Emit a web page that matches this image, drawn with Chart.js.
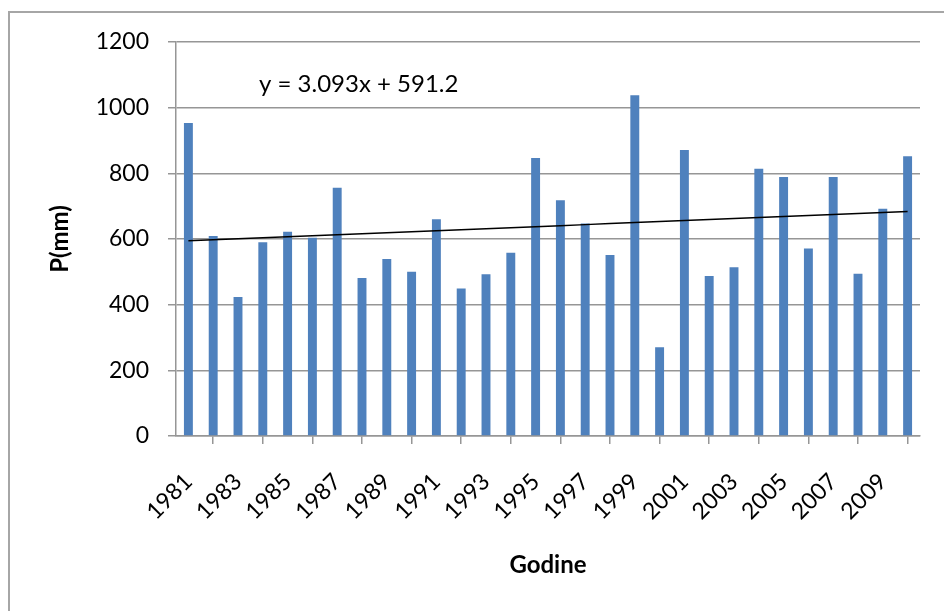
<!DOCTYPE html>
<html>
<head>
<meta charset="utf-8">
<script src="https://cdn.jsdelivr.net/npm/chart.js@4/dist/chart.umd.min.js"></script>
<style>
  html, body { margin: 0; padding: 0; background: #ffffff; overflow: hidden; }
  #wrap { position: relative; width: 944px; height: 611px; }
</style>
</head>
<body>
<div id="wrap"><canvas id="c" width="944" height="611"></canvas></div>
<script>
const years = ['1981','1982','1983','1984','1985','1986','1987','1988','1989','1990',
               '1991','1992','1993','1994','1995','1996','1997','1998','1999','2000',
               '2001','2002','2003','2004','2005','2006','2007','2008','2009','2010'];
const precip = [953, 609, 423, 590, 622, 604, 756, 481, 539, 500,
                660, 449, 493, 558, 847, 718, 647, 551, 1038, 270,
                871, 487, 514, 814, 789, 571, 789, 494, 692, 852];
const trendSlope = 3.093;
const trendIntercept = 591.2;
const equationText = 'y = 3.093x + 591.2';
const yTicks = [0, 200, 400, 600, 800, 1000, 1200];
const yTitle = 'P(mm)';
const xTitle = 'Godine';

const trend = years.map((_, i) => trendSlope * (i + 1) + trendIntercept);

const FONT = 'Lato, "Open Sans", "DejaVu Sans", sans-serif';
const gridColor = '#969696';

const framePlugin = {
  id: 'frame',
  beforeDraw(chart) {
    const ctx = chart.ctx;
    ctx.save();
    ctx.fillStyle = '#ffffff';
    ctx.fillRect(0, 0, chart.width, chart.height);
    ctx.strokeStyle = '#a6a6a6';
    ctx.lineWidth = 2;
    ctx.strokeRect(9, 12, 1000, 700);
    ctx.restore();
  },
  afterDraw(chart) {
    const ctx = chart.ctx;
    ctx.save();
    ctx.fillStyle = '#000000';
    ctx.font = '24px ' + FONT;
    ctx.textAlign = 'left';
    ctx.textBaseline = 'middle';
    ctx.fillText(equationText, 259, 84);
    ctx.restore();
  }
};

new Chart(document.getElementById('c'), {
  data: {
    labels: years,
    datasets: [
      {
        type: 'line',
        data: trend,
        borderColor: '#000000',
        borderWidth: 1.5,
        pointRadius: 0,
        fill: false,
        tension: 0,
        order: 0
      },
      {
        type: 'bar',
        data: precip,
        backgroundColor: '#4f81bd',
        borderWidth: 0,
        barPercentage: 0.36,
        categoryPercentage: 1.0,
        order: 1
      }
    ]
  },
  options: {
    responsive: false,
    animation: false,
    events: [],
    layout: { padding: { top: 42, right: 24, left: 0, bottom: 0 } },
    plugins: { legend: { display: false }, tooltip: { enabled: false } },
    scales: {
      x: {
        type: 'category',
        offset: true,
        grid: {
          offset: true,
          drawOnChartArea: false,
          drawTicks: true,
          tickLength: 8,
          color: gridColor,
          lineWidth: 1.5
        },
        border: { display: true, color: gridColor, width: 1.5 },
        ticks: {
          autoSkip: false,
          minRotation: 45,
          maxRotation: 45,
          padding: 24,
          color: '#000000',
          font: { family: FONT, size: 23 },
          callback: function(value, index) { return index % 2 === 0 ? this.getLabelForValue(value) : null; }
        },
        title: {
          display: true,
          text: xTitle,
          color: '#000000',
          font: { family: FONT, size: 24, weight: 'bold' },
          padding: { top: 0, bottom: 31 }
        },
        afterFit(scale) { scale.height = 175; }
      },
      y: {
        min: 0,
        max: 1200,
        afterBuildTicks(scale) { scale.ticks = yTicks.map(v => ({ value: v })); },
        grid: {
          drawTicks: true,
          tickLength: 8,
          color: gridColor,
          lineWidth: 1.5
        },
        border: { display: true, color: gridColor, width: 1.5 },
        ticks: {
          padding: 19,
          color: '#000000',
          font: { family: FONT, size: 23 },
          callback: (value) => String(value)
        },
        title: {
          display: true,
          text: yTitle,
          color: '#000000',
          font: { family: FONT, size: 24, weight: 'bold' },
          padding: { top: 46, bottom: 0 }
        },
        afterFit(scale) { scale.width = 176; }
      }
    }
  },
  plugins: [framePlugin]
});
</script>
</body>
</html>
